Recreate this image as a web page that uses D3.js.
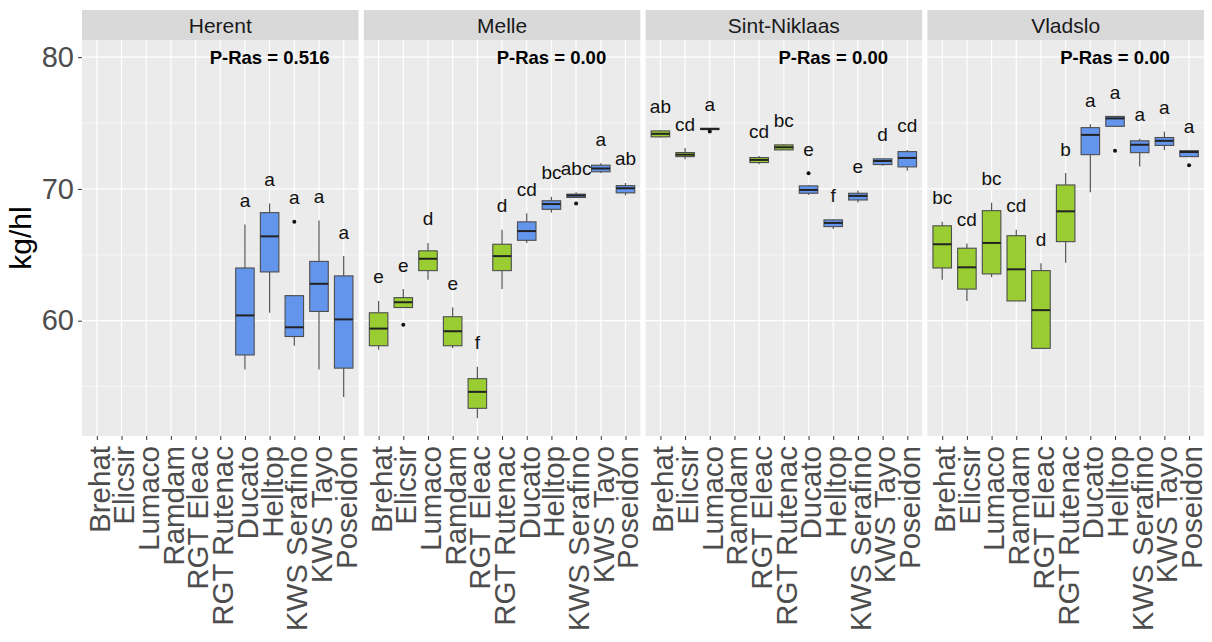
<!DOCTYPE html>
<html lang="en">
<head>
  <meta charset="UTF-8"/>
  <title>kg/hl per ras en locatie</title>
  <script src="https://d3js.org/d3.v7.min.js"></script>
  <style>
    body { margin: 0; background: #fff; }
    text { font-family: "Liberation Sans", Arial, sans-serif; }
  </style>
</head>
<body>
<script>

// ---- data ----
var sites = ["Herent", "Melle", "Sint-Niklaas", "Vladslo"];
var varieties = ["Brehat", "Elicsir", "Lumaco", "Ramdam", "RGT Eleac", "RGT Rutenac",
                 "Ducato", "Helltop", "KWS Serafino", "KWS Tayo", "Poseidon"];
var varietyType = ["g", "g", "g", "g", "g", "g", "b", "b", "b", "b", "b"];
var pRas = ["P-Ras = 0.516", "P-Ras = 0.00", "P-Ras = 0.00", "P-Ras = 0.00"];
var yTicks = [60, 70, 80];
var yMinor = [55, 65, 75];

// [lower whisker, Q1, median, Q3, upper whisker] per variety, null = not grown
var herent = [null, null, null, null, null, null,
  [56.3, 57.4, 60.4, 64.0, 67.3],
  [60.6, 63.7, 66.4, 68.2, 68.9],
  [58.1, 58.8, 59.5, 61.9, 61.9],
  [56.3, 60.7, 62.8, 64.5, 67.6],
  [54.2, 56.4, 60.1, 63.4, 64.9]];
var melle = [
  [57.8, 58.1, 59.4, 60.6, 61.5],
  [61.0, 61.0, 61.4, 61.75, 62.4],
  [63.1, 63.8, 64.7, 65.3, 65.9],
  [57.9, 58.1, 59.2, 60.3, 61.0],
  [52.6, 53.35, 54.6, 55.6, 56.5],
  [62.4, 63.8, 64.9, 65.8, 66.9],
  [65.9, 66.1, 66.8, 67.5, 68.15],
  [68.2, 68.45, 68.85, 69.1, 69.4],
  [69.35, 69.35, 69.5, 69.6, 69.75],
  [71.2, 71.3, 71.55, 71.8, 71.95],
  [69.5, 69.7, 70.05, 70.25, 70.45]];
var sintNiklaas = [
  [73.9, 73.95, 74.18, 74.4, 74.45],
  [72.25, 72.45, 72.6, 72.76, 73.1],
  [74.45, 74.5, 74.55, 74.6, 74.6],
  null,
  [71.87, 72.0, 72.2, 72.38, 72.5],
  [72.96, 72.96, 73.16, 73.34, 73.4],
  [69.54, 69.67, 69.92, 70.23, 70.3],
  [66.96, 67.14, 67.42, 67.65, 67.7],
  [68.96, 69.16, 69.47, 69.67, 69.87],
  [71.75, 71.85, 72.12, 72.28, 72.3],
  [71.37, 71.67, 72.35, 72.83, 72.96]];
var vladslo = [
  [63.1, 64.0, 65.8, 67.2, 67.5],
  [61.5, 62.4, 64.05, 65.5, 65.85],
  [63.3, 63.55, 65.9, 68.35, 68.95],
  [61.5, 61.5, 63.9, 66.45, 66.9],
  [57.9, 57.9, 60.8, 63.8, 64.35],
  [64.4, 66.0, 68.3, 70.3, 71.2],
  [69.75, 72.6, 74.1, 74.65, 74.9],
  [74.7, 74.75, 75.35, 75.5, 75.5],
  [71.7, 72.75, 73.35, 73.65, 73.8],
  [72.95, 73.3, 73.65, 73.9, 74.35],
  [72.45, 72.45, 72.8, 72.9, 72.9]];
var stats = [herent, melle, sintNiklaas, vladslo];

// outliers: [variety index, value]
var herentOut = [[8, 67.5]];
var melleOut = [[1, 59.7], [8, 68.9]];
var sintNiklaasOut = [[2, 74.35], [6, 71.19]];
var vladsloOut = [[7, 72.9], [10, 71.8]];
var outliers = [herentOut, melleOut, sintNiklaasOut, vladsloOut];

// letters of the post-hoc test
var herentLetters = ["", "", "", "", "", "", "a", "a", "a", "a", "a"];
var melleLetters = ["e", "e", "d", "e", "f", "d", "cd", "bc", "abc", "a", "ab"];
var sintNiklaasLetters = ["ab", "cd", "a", "", "cd", "bc", "e", "f", "e", "d", "cd"];
var vladsloLetters = ["bc", "cd", "bc", "cd", "d", "b", "a", "a", "a", "a", "a"];
var letters = [herentLetters, melleLetters, sintNiklaasLetters, vladsloLetters];

// ---- layout ----
var W = 1212, H = 642;
var panelLeft = 82, panelW = 276.5, panelGap = 5.3;
var stripTop = 10, stripH = 30;
var plotTop = stripTop + stripH, plotBottom = 436;
var colors = { g: "#9ACD32", b: "#6495ED" };

var svg = d3.select("body").append("svg")
  .attr("width", W)
  .attr("height", H);

svg.append("rect").attr("width", W).attr("height", H).attr("fill", "#fff");

var yScale = d3.scaleLinear()
  .domain([51.25, 81.3])
  .range([plotBottom, plotTop]);

var xScale = d3.scalePoint()
  .domain(varieties)
  .range([0, panelW])
  .padding(0.6);

var boxW = xScale.step() * 0.75;

sites.forEach(function(site, s) {
  var g = svg.append("g")
    .attr("transform", "translate(" + (panelLeft + s * (panelW + panelGap)) + ",0)");

  // background + strip
  g.append("rect")
    .attr("x", 0).attr("y", plotTop)
    .attr("width", panelW).attr("height", plotBottom - plotTop)
    .attr("fill", "#EBEBEB");
  g.append("rect")
    .attr("x", 0).attr("y", stripTop)
    .attr("width", panelW).attr("height", stripH)
    .attr("fill", "#D9D9D9");
  g.append("text")
    .attr("x", panelW / 2).attr("y", stripTop + stripH / 2)
    .attr("text-anchor", "middle")
    .attr("dominant-baseline", "central")
    .attr("font-size", 21)
    .attr("fill", "#1A1A1A")
    .text(site);

  // grid
  g.selectAll(".minor").data(yMinor).enter().append("line")
    .attr("x1", 0).attr("x2", panelW)
    .attr("y1", function(d) { return yScale(d); })
    .attr("y2", function(d) { return yScale(d); })
    .attr("stroke", "#fff").attr("stroke-width", 0.6);
  g.selectAll(".major").data(yTicks).enter().append("line")
    .attr("x1", 0).attr("x2", panelW)
    .attr("y1", function(d) { return yScale(d); })
    .attr("y2", function(d) { return yScale(d); })
    .attr("stroke", "#fff").attr("stroke-width", 1.2);
  g.selectAll(".vgrid").data(varieties).enter().append("line")
    .attr("x1", function(d) { return xScale(d); })
    .attr("x2", function(d) { return xScale(d); })
    .attr("y1", plotTop).attr("y2", plotBottom)
    .attr("stroke", "#fff").attr("stroke-width", 1.2);

  // x axis
  var xAxis = g.append("g")
    .attr("transform", "translate(0," + plotBottom + ")")
    .call(d3.axisBottom(xScale).tickSize(4));
  xAxis.select(".domain").remove();
  xAxis.selectAll("line").attr("stroke", "#333").attr("stroke-width", 1);
  xAxis.selectAll("text")
    .attr("transform", "rotate(-90)")
    .attr("text-anchor", "end")
    .attr("x", -10).attr("y", 0)
    .attr("dy", "0.42em")
    .attr("font-size", 29.5)
    .attr("font-family", "Liberation Sans, Arial, sans-serif")
    .attr("fill", "#4D4D4D");

  // y axis on first panel
  if (s === 0) {
    var yAxis = g.append("g")
      .call(d3.axisLeft(yScale).tickValues(yTicks).tickSize(4).tickPadding(4));
    yAxis.select(".domain").remove();
    yAxis.selectAll("line").attr("stroke", "#333");
    yAxis.selectAll("text")
      .attr("font-size", 29)
      .attr("font-family", "Liberation Sans, Arial, sans-serif")
      .attr("fill", "#4D4D4D");
  }

  var rows = [];
  stats[s].forEach(function(d, i) {
    if (d) rows.push({ v: varieties[i], type: varietyType[i], st: d, lab: letters[s][i], i: i });
  });

  var box = g.selectAll(".box").data(rows).enter().append("g");

  // whiskers
  box.append("line")
    .attr("x1", function(d) { return xScale(d.v); })
    .attr("x2", function(d) { return xScale(d.v); })
    .attr("y1", function(d) { return yScale(d.st[0]); })
    .attr("y2", function(d) { return yScale(d.st[1]); })
    .attr("stroke", "#555").attr("stroke-width", 1.2);
  box.append("line")
    .attr("x1", function(d) { return xScale(d.v); })
    .attr("x2", function(d) { return xScale(d.v); })
    .attr("y1", function(d) { return yScale(d.st[3]); })
    .attr("y2", function(d) { return yScale(d.st[4]); })
    .attr("stroke", "#555").attr("stroke-width", 1.2);

  box.append("rect")
    .attr("x", function(d) { return xScale(d.v) - boxW / 2; })
    .attr("y", function(d) { return yScale(d.st[3]); })
    .attr("width", boxW)
    .attr("height", function(d) { return Math.max(1, yScale(d.st[1]) - yScale(d.st[3])); })
    .attr("fill", function(d) { return colors[d.type]; })
    .attr("stroke", "#4D4D4D").attr("stroke-width", 1.1);

  box.append("line")
    .attr("x1", function(d) { return xScale(d.v) - boxW / 2; })
    .attr("x2", function(d) { return xScale(d.v) + boxW / 2; })
    .attr("y1", function(d) { return yScale(d.st[2]); })
    .attr("y2", function(d) { return yScale(d.st[2]); })
    .attr("stroke", "#222").attr("stroke-width", 2);

  // outliers
  g.selectAll(".out").data(outliers[s]).enter().append("circle")
    .attr("cx", function(d) { return xScale(varieties[d[0]]); })
    .attr("cy", function(d) { return yScale(d[1]); })
    .attr("r", 2)
    .attr("fill", "#111");

  // letters above the highest point
  box.append("text")
    .attr("x", function(d) { return xScale(d.v); })
    .attr("y", function(d) {
      var top = d.st[4];
      outliers[s].forEach(function(o) { if (o[0] === d.i && o[1] > top) top = o[1]; });
      return yScale(top) - 24;
    })
    .attr("text-anchor", "middle")
    .attr("dominant-baseline", "central")
    .attr("font-size", 19)
    .attr("fill", "#111")
    .text(function(d) { return d.lab; });

  // P-Ras annotation
  g.append("text")
    .attr("x", xScale(varieties[7]))
    .attr("y", yScale(80))
    .attr("text-anchor", "middle")
    .attr("dominant-baseline", "central")
    .attr("font-size", 18.5)
    .attr("font-weight", "bold")
    .attr("fill", "#000")
    .text(pRas[s]);
});

// y label
svg.append("text")
  .attr("transform", "translate(31," + ((plotTop + plotBottom) / 2) + ") rotate(-90)")
  .attr("text-anchor", "middle")
  .attr("font-size", 30)
  .attr("fill", "#000")
  .text("kg/hl");

</script>
</body>
</html>
